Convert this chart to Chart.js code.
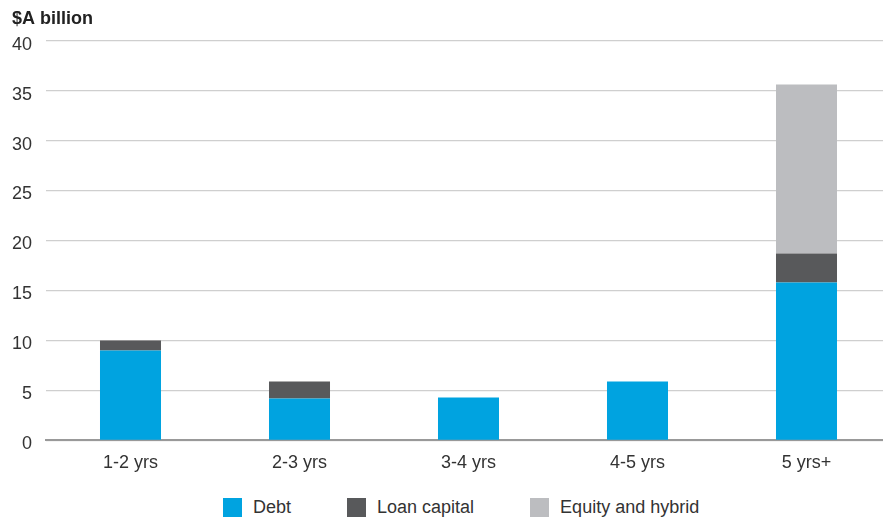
<!DOCTYPE html>
<html lang="en">
<head>
    <meta charset="UTF-8">
    <title>Maturity profile</title>
    <script src="https://cdn.jsdelivr.net/npm/chart.js@4/dist/chart.umd.min.js"></script>
    <style>
        html, body {
            margin: 0;
            padding: 0;
            overflow: hidden;
            background: #fff;
            font-family: "Liberation Sans", Arial, sans-serif;
        }
        .wrap {
            position: relative;
            width: 883px;
            height: 522px;
            overflow: hidden;
        }
        #chart {
            position: absolute;
            left: 0;
            top: 0;
        }
        .legend {
            position: absolute;
            left: 223px;
            top: 497px;
            display: flex;
            align-items: center;
            font-size: 18px;
            color: #333;
        }
        .legend span.box {
            display: inline-block;
            width: 19px;
            height: 19px;
            margin-right: 11px;
        }
        .legend .item {
            display: flex;
            align-items: center;
            margin-right: 56px;
        }
    </style>
</head>
<body>
    <div class="wrap">
        <canvas id="chart" width="891" height="486"></canvas>
        <div class="legend" id="legend"></div>
    </div>

    <script>
        // Data
        const categories = ['1-2 yrs', '2-3 yrs', '3-4 yrs', '4-5 yrs', '5 yrs+'];
        const debt = [9.0, 4.2, 4.3, 5.9, 15.8];
        const loanCapital = [1.0, 1.7, 0, 0, 2.9];
        const equityHybrid = [0, 0, 0, 0, 16.9];
        const yTicks = [0, 5, 10, 15, 20, 25, 30, 35, 40];

        const font = "'Liberation Sans', Arial, sans-serif";
        const textColor = '#333';

        const ctx = document.getElementById('chart').getContext('2d');
        const chart = new Chart(ctx, {
            type: 'bar',
            data: {
                labels: categories,
                datasets: [{
                    label: 'Debt',
                    data: debt,
                    backgroundColor: '#00a3e0'
                }, {
                    label: 'Loan capital',
                    data: loanCapital,
                    backgroundColor: '#58595b'
                }, {
                    label: 'Equity and hybrid',
                    data: equityHybrid,
                    backgroundColor: '#bcbdc0'
                }]
            },
            options: {
                responsive: false,
                animation: false,
                layout: {
                    padding: { left: 12, right: 0, top: 0, bottom: 0 }
                },
                datasets: {
                    bar: {
                        categoryPercentage: 1,
                        barPercentage: 0.361
                    }
                },
                plugins: {
                    legend: { display: false },
                    tooltip: { enabled: false },
                    title: {
                        display: true,
                        text: '$A billion',
                        align: 'start',
                        color: '#222',
                        font: { family: font, size: 18, weight: 'bold' },
                        padding: { top: 8, bottom: 11 }
                    }
                },
                scales: {
                    x: {
                        stacked: true,
                        grid: { display: false, drawTicks: false },
                        border: { color: '#999', width: 2 },
                        ticks: {
                            color: textColor,
                            padding: 12,
                            font: { family: font, size: 18 }
                        }
                    },
                    y: {
                        stacked: true,
                        min: 0,
                        max: 40,
                        afterBuildTicks: axis => {
                            axis.ticks = yTicks.map(v => ({ value: v }));
                        },
                        afterFit: axis => {
                            axis.width = 34;
                        },
                        grid: { color: '#cfcfcf', lineWidth: 1.2, drawTicks: false },
                        border: { display: false },
                        ticks: {
                            color: textColor,
                            padding: 14,
                            labelOffset: 4,
                            font: { family: font, size: 18 }
                        }
                    }
                }
            }
        });

        // HTML legend built from the datasets
        const legendEl = document.getElementById('legend');
        chart.data.datasets.forEach(ds => {
            const item = document.createElement('div');
            item.className = 'item';
            const box = document.createElement('span');
            box.className = 'box';
            box.style.background = ds.backgroundColor;
            const txt = document.createElement('span');
            txt.textContent = ds.label;
            item.appendChild(box);
            item.appendChild(txt);
            legendEl.appendChild(item);
        });
    </script>
</body>
</html>
